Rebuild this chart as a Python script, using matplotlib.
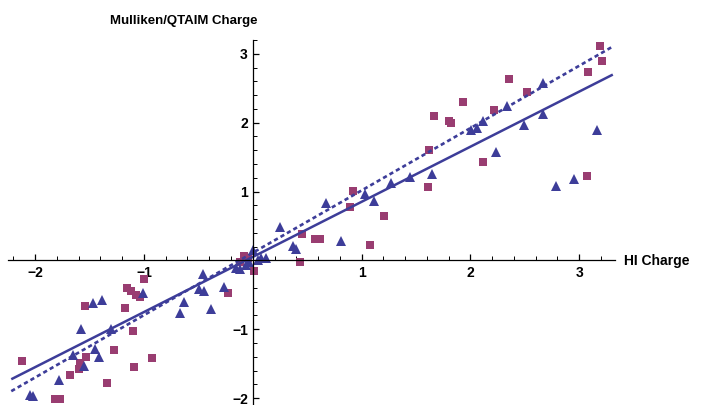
import numpy as np
import matplotlib
matplotlib.use("Agg")
from matplotlib import pyplot as plt
from matplotlib.ticker import FixedLocator, MultipleLocator

# Mulliken charges (squares)
sq_x = [3.19, 3.21, 3.08, 2.36, 2.52, 1.93, 2.22, 1.67, 1.80, 1.82, 2.12, 3.07,
        1.62, 1.61, 0.92, 0.89, 1.21, 0.45, 0.57, 0.62, 1.08, 0.43, -0.08, -0.04,
        -0.12, 0.01, -0.23, -1.00, -1.16, -1.12, -1.07, -1.04, -1.54, -1.17, -1.10,
        -1.28, -1.53, -0.93, -1.09, -2.12, -1.59, -1.60, -1.68, -1.34, -1.82, -1.77]
sq_y = [3.12, 2.89, 2.73, 2.64, 2.45, 2.30, 2.19, 2.10, 2.03, 1.99, 1.43, 1.23,
        1.60, 1.07, 1.01, 0.78, 0.64, 0.38, 0.31, 0.31, 0.22, -0.03, 0.07, 0.03,
        -0.02, -0.15, -0.48, -0.27, -0.40, -0.45, -0.50, -0.53, -0.66, -0.69, -1.02,
        -1.30, -1.41, -1.42, -1.55, -1.46, -1.49, -1.58, -1.67, -1.78, -2.02, -2.01]

# QTAIM charges (triangles)
tri_x = [2.67, 2.34, 2.12, 2.06, 2.01, 2.67, 2.49, 3.16, 2.24, 1.45, 1.65, 2.79,
         2.95, 1.27, 1.03, 1.11, 0.67, 0.81, 0.37, 0.40, 0.25, 0.00, 0.05, 0.08,
         0.12, -0.03, -0.06, -0.12, -0.15, -0.46, -0.49, -0.45, -0.26, -0.38, -0.63,
         -0.67, -1.01, -1.47, -1.39, -1.58, -1.30, -1.45, -1.41, -1.65, -1.55, -1.78,
         -2.05, -2.02]
tri_y = [2.57, 2.24, 2.03, 1.92, 1.89, 2.12, 1.96, 1.89, 1.58, 1.21, 1.25, 1.08,
         1.18, 1.13, 0.97, 0.86, 0.83, 0.28, 0.21, 0.17, 0.48, 0.15, 0.00, 0.03,
         0.04, -0.02, -0.07, -0.12, -0.11, -0.20, -0.41, -0.45, -0.38, -0.71, -0.60,
         -0.77, -0.48, -0.62, -0.58, -0.99, -0.99, -1.28, -1.40, -1.37, -1.54, -1.73,
         -1.95, -1.97]

# linear fits (slope, intercept)
fit_solid = (0.80, 0.05)
fit_dotted = (0.905, 0.11)

xticks = [-2, -1, 1, 2, 3]
yticks = [-2, -1, 1, 2, 3]

blue = "#3d3d99"
purple = "#993d71"

plt.rcParams["font.family"] = ["Liberation Sans", "DejaVu Sans"]

fig = plt.figure(figsize=(7.02, 4.05), dpi=100)
ax = fig.add_axes([8 / 702, 0.0, 607 / 702, 365 / 405])
ax.set_xlim(-2.25, 3.33)
ax.set_ylim(-2.10, 3.20)

ax.plot(sq_x, sq_y, "s", color=purple, markersize=6.3, markeredgewidth=0)
ax.plot(tri_x, tri_y, "^", color=blue, markersize=7.8, markeredgewidth=0)

xs = np.array([-2.22, 3.31])
ax.plot(xs, fit_solid[0] * xs + fit_solid[1], color=blue, lw=1.8,
        solid_capstyle="butt")
ax.plot(xs, fit_dotted[0] * xs + fit_dotted[1], color=blue, lw=1.9,
        linestyle=(0, (1.6, 1.2)))

for side in ["top", "right"]:
    ax.spines[side].set_visible(False)
for side in ["left", "bottom"]:
    ax.spines[side].set_position(("data", 0))
    ax.spines[side].set_linewidth(0.9)

ax.xaxis.set_major_locator(FixedLocator(xticks))
ax.yaxis.set_major_locator(FixedLocator(yticks))
ax.xaxis.set_minor_locator(MultipleLocator(0.2))
ax.yaxis.set_minor_locator(MultipleLocator(0.2))
ax.set_xticklabels(["\u22122", "\u22121", "1", "2", "3"])
ax.set_yticklabels(["\u22122", "\u22121", "1", "2", "3"])
ax.tick_params(which="major", direction="in", length=4.5, width=0.9,
               labelsize=10)
ax.tick_params(axis="x", which="major", pad=4)
ax.tick_params(axis="y", which="major", pad=3.5)
ax.tick_params(which="minor", direction="in", length=3, width=0.7)
for lab in ax.get_xticklabels() + ax.get_yticklabels():
    lab.set_fontweight("bold")

fig.text(624 / 702, 1 - 261 / 405, "HI Charge", ha="left", va="center",
         fontsize=10, fontweight="bold")
fig.text(258 / 702, 1 - 21 / 405, "Mulliken/QTAIM Charge", ha="right",
         va="center", fontsize=9.5, fontweight="bold")

fig.savefig("out.png", dpi=100)
